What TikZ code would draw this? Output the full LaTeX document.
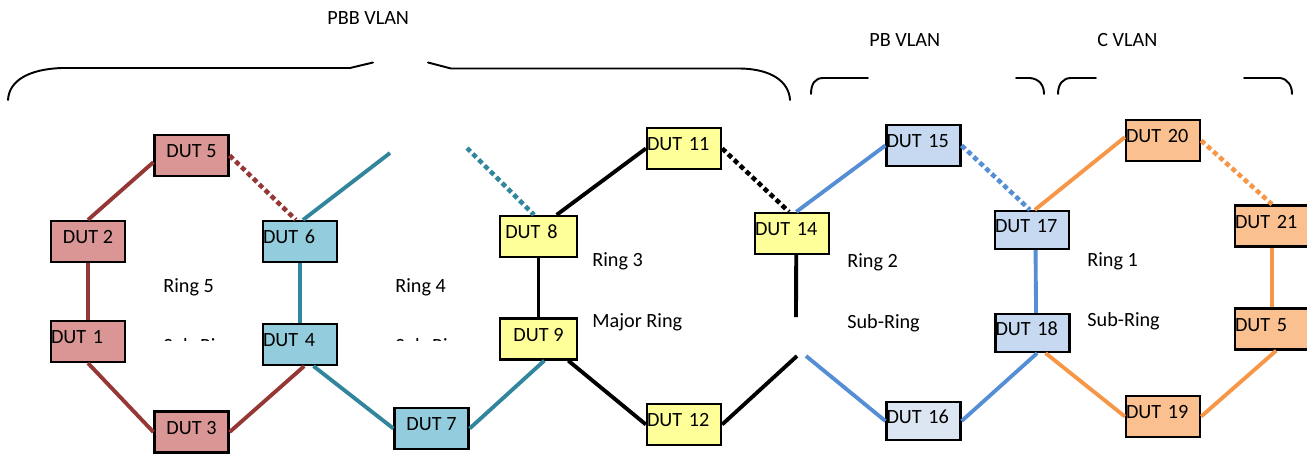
\documentclass[tikz,border=0pt]{standalone}
\usepackage{fontspec}
\setmainfont{Carlito}
\usepackage{xcolor}
\definecolor{rfiveline}{HTML}{953735}
\definecolor{rfivefill}{HTML}{D99694}
\definecolor{rfourline}{HTML}{31859C}
\definecolor{rfourfill}{HTML}{93CDDD}
\definecolor{rthreefill}{HTML}{FFFF99}
\definecolor{rtwoline}{HTML}{558ED5}
\definecolor{rtwofill}{HTML}{C6D9F1}
\definecolor{rtwolight}{HTML}{DCE6F2}
\definecolor{roneline}{HTML}{F79646}
\definecolor{ronefill}{HTML}{FAC090}
\usepackage{tikz}
\usetikzlibrary{positioning}

\begin{document}
\begin{tikzpicture}[
  x=0.02cm, y=-0.02cm,
  font=\fontsize{11.5}{13.8}\selectfont,
  dut/.style={rectangle, draw=black, line width=1.3pt,
    minimum width=1.48cm, minimum height=0.82cm,
    inner sep=0pt, text height=7.5pt, text depth=5.2pt,
    align=center},
  dutl/.style={dut, text width=1.48cm, align=left},
  link/.style={line width=2.2pt},
  blocked/.style={line width=2.6pt, dash pattern=on 2.8pt off 1.9pt},
  lbl/.style={anchor=base west, inner sep=0pt},
  brace/.style={line width=1.1pt, line cap=round}
]
  \useasboundingbox (0,0) rectangle (1307,453);

  % VLAN braces
  \node[lbl] (pbb) at (327,24) {PBB VLAN};
  \node[lbl] (pb) at (869,46) {PB VLAN};
  \node[lbl] (cv) at (1097,46) {C VLAN};
  \draw[brace] (8,100) .. controls (9,80) and (30,69) .. (62,68) -- (350,68) -- (373,62.5);
  \draw[brace] (428,62.5) -- (451,68.5) -- (740,68.5) .. controls (772,69) and (789,82) .. (790,100);
  \draw[brace] (811,94) .. controls (811,84) and (815,78) .. (823,78) -- (868,78);
  \draw[brace] (1016,78) -- (1030,78) .. controls (1040,79) and (1044,86) .. (1044,94);
  \draw[brace] (1058,94) .. controls (1058,84) and (1063,78) .. (1071,78) -- (1096,78);
  \draw[brace] (1244,78) -- (1280,78) .. controls (1288,79) and (1292,86) .. (1292,94);

  % Ring 5
  \node[dut, fill=rfivefill] (dut5) at (191.5,155.5) {DUT 5};
  \node[dut, fill=rfivefill] (dut2) at (88,241.5) {DUT 2};
  \node[dutl, fill=rfivefill] (dut1) at (88,341.5) {DUT 1};
  \node[dut, fill=rfivefill] (dut3) at (191.5,432) {DUT 3};
  \node[lbl] (ring5) at (163,292) {Ring 5};
  \draw[link, rfiveline] (dut2.north) -- (dut5.190);
  \draw[link, rfiveline] (dut2.south) -- (dut1.north);
  \draw[link, rfiveline] (dut1.south) -- (dut3.west);

  % Ring 4
  \node[dutl, fill=rfourfill] (dut6) at (300,241.5) {DUT 6};
  \node[dutl, fill=rfourfill] (dut4) at (300,344.5) {DUT 4};
  \node[dut, fill=rfourfill] (dut7) at (431.5,428.5) {DUT 7};
  \node[lbl] (ring4) at (395,292) {Ring 4};
  \coordinate (r4a) at (390,153);
  \coordinate (r4b) at (467,148);
  \draw[link, rfiveline] (dut3.east) -- (dut4.-79);
  \draw[blocked, rfiveline] (dut5.east) -- (dut6.101);
  \draw[link, rfourline] (dut6.82) -- (r4a);
  \draw[link, rfourline] (dut6.south) -- (dut4.north);
  \draw[link, rfourline] (dut4.-58) -- (dut7.west);

  % clipped sub-ring labels
  \begin{scope}
    \clip (150,336.5) rectangle (470,340.5);
    \node[lbl] (sub5) at (163,352) {Sub-Ring};
    \node[lbl] (sub4) at (395,352) {Sub-Ring};
  \end{scope}

  % Ring 3 (major ring)
  \node[dutl, fill=rthreefill, minimum width=1.54cm, text width=1.54cm] (dut8) at (538.5,236.5) {\hspace*{3pt}DUT 8};
  \node[dut, fill=rthreefill, minimum width=1.54cm] (dut9) at (538.5,339) {DUT 9};
  \node[dutl, fill=rthreefill] (dut11) at (684,148.5) {DUT 11};
  \node[dutl, fill=rthreefill] (dut14) at (792,233.5) {DUT 14};
  \node[dutl, fill=rthreefill] (dut12) at (684,424.5) {DUT 12};
  \node[lbl] (ring3) at (592,266) {Ring 3};
  \node[lbl] (major) at (592,327) {Major Ring};
  \coordinate (r3a) at (797,356);
  \coordinate (r3b) at (796,317);
  \draw[link, rfourline] (dut7.east) -- (dut9.-75);
  \draw[blocked, rfourline] (r4b) -- (dut8.102);
  \draw[link] (dut8.50) -- (dut11.west);
  \draw[link] (dut8.south) -- (dut9.north);
  \draw[link] (dut9.-36) -- (dut12.west);
  \draw[link] (dut12.east) -- (r3a);
  \draw[link] (dut14.-79) -- (r3b);
  \draw[blocked] (dut11.east) -- (dut14.98);

  % Ring 2
  \node[dutl, fill=rtwofill] (dut15) at (923.5,145.5) {DUT 15};
  \node[dutl, fill=rtwofill, minimum height=0.76cm] (dut17) at (1032,230) {DUT 17};
  \node[dutl, fill=rtwofill, minimum height=0.76cm] (dut18) at (1032.5,333) {DUT 18};
  \node[dutl, fill=rtwolight, minimum height=0.76cm] (dut16) at (923.5,421) {DUT 16};
  \node[lbl] (ring2) at (847,267) {Ring 2};
  \node[lbl] (sub2) at (847,328) {Sub-Ring};
  \coordinate (r2a) at (806,356);
  \draw[link, rtwoline] (dut14.79) -- (dut15.west);
  \draw[link, rtwoline] (r2a) -- (dut16.west);
  \draw[link, rtwoline] (dut16.east) -- (dut18.-77);
  \draw[link, rtwoline] (dut17.-80) -- (dut18.80);
  \draw[blocked, rtwoline] (dut15.east) -- (dut17.96);

  % Ring 1
  \node[dutl, fill=ronefill] (dut20) at (1163,140.5) {DUT 20};
  \node[dutl, fill=ronefill] (dut21) at (1272,226) {DUT 21};
  \node[dutl, fill=ronefill] (dut5b) at (1272,329) {DUT 5};
  \node[dutl, fill=ronefill] (dut19) at (1163,416.5) {DUT 19};
  \node[lbl] (ring1) at (1087,266) {Ring 1};
  \node[lbl] (sub1) at (1087,326) {Sub-Ring};
  \draw[link, roneline] (dut17.82) -- (dut20.175);
  \draw[link, roneline] (dut18.-57) -- (dut19.west);
  \draw[link, roneline] (dut19.east) -- (dut5b.-79);
  \draw[link, roneline] (dut21.south) -- (dut5b.north);
  \draw[blocked, roneline] (dut20.east) -- (dut21.north);
\end{tikzpicture}
\end{document}
